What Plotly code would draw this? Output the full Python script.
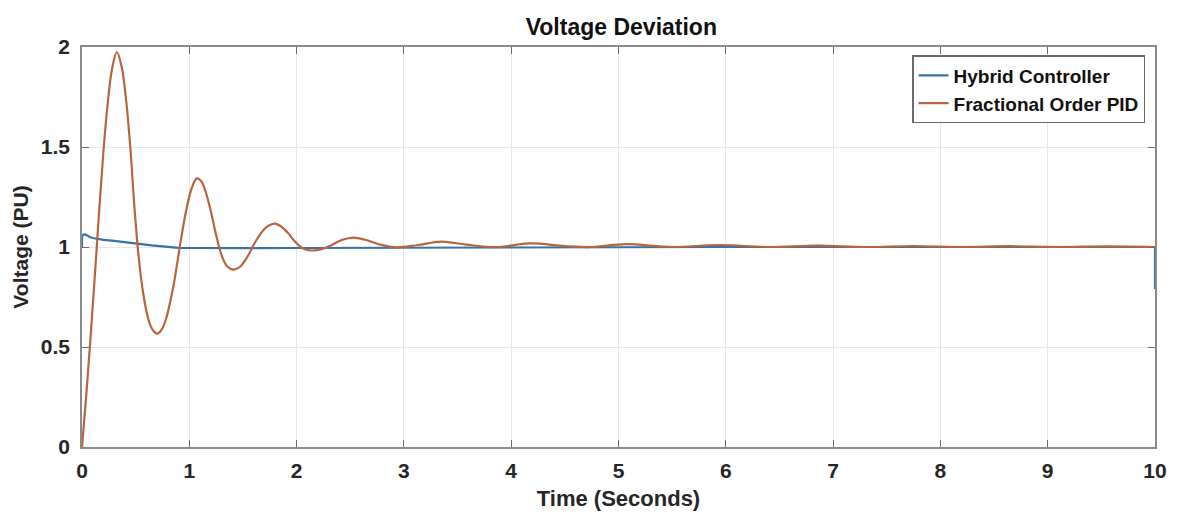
import plotly.graph_objects as go

# Step response of the hybrid controller (time in s, voltage in PU)
hybrid_t = [0.0, 0.0, 0.015, 0.03, 0.05, 0.07, 0.10, 0.14, 0.20, 0.30, 0.41, 0.50, 0.57,
            0.65, 0.73, 0.82, 0.90, 1.0, 1.2, 1.6, 2.0, 2.5, 3.0, 4.0, 5.0, 6.0, 7.0,
            8.0, 9.0, 10.0, 10.0]
hybrid_v = [1.0, 1.055, 1.062, 1.063, 1.058, 1.05, 1.045, 1.041, 1.036, 1.031, 1.025, 1.018,
            1.013, 1.008, 1.003, 0.998, 0.996, 0.995, 0.994, 0.994, 0.995, 0.996, 0.997,
            0.999, 1.0, 1.0, 1.0, 1.0, 1.0, 1.0, 0.79]

# Step response of the fractional order PID controller
fopid_t = [0.00, 0.04, 0.08, 0.12, 0.16, 0.20, 0.24, 0.28, 0.325, 0.37, 0.41, 0.45,
           0.49, 0.53, 0.57, 0.62, 0.66, 0.70, 0.74, 0.78, 0.85, 0.92, 0.97, 1.02,
           1.07, 1.11, 1.15, 1.20, 1.25, 1.30, 1.35, 1.41, 1.47, 1.54, 1.62, 1.70,
           1.75, 1.80, 1.85, 1.92, 1.98, 2.04, 2.10, 2.17, 2.24, 2.32, 2.42, 2.53,
           2.64, 2.76, 2.93, 3.13, 3.35, 3.58, 3.86, 4.17, 4.50, 4.75, 5.07, 5.50,
           5.94, 6.40, 6.85, 7.30, 7.75, 8.20, 8.65, 9.10, 9.55, 10.0]
fopid_v = [0.00, 0.26, 0.55, 0.86, 1.18, 1.48, 1.72, 1.89, 1.975, 1.90, 1.74, 1.50,
           1.19, 0.94, 0.77, 0.635, 0.585, 0.567, 0.585, 0.635, 0.80, 1.03, 1.18, 1.29,
           1.343, 1.33, 1.28, 1.18, 1.06, 0.96, 0.905, 0.887, 0.90, 0.95, 1.03, 1.09,
           1.11, 1.117, 1.105, 1.07, 1.03, 1.00, 0.985, 0.983, 0.99, 1.008, 1.035, 1.047,
           1.036, 1.015, 0.998, 1.01, 1.027, 1.012, 0.999, 1.018, 1.005, 1.0, 1.014, 1.0,
           1.01, 1.0, 1.007, 1.0, 1.005, 1.0, 1.004, 1.0, 1.003, 1.0]

x_ticks = [0, 1, 2, 3, 4, 5, 6, 7, 8, 9, 10]
y_ticks = [0, 0.5, 1, 1.5, 2]

FONT = "Liberation Sans, Arial, sans-serif"
TXT = "#262626"

fig = go.Figure()
fig.add_trace(go.Scatter(
    x=hybrid_t, y=hybrid_v, mode="lines", name="Hybrid Controller",
    line=dict(color="#3574A6", width=2.2, shape="linear"),
))
fig.add_trace(go.Scatter(
    x=fopid_t, y=fopid_v, mode="lines", name="Fractional Order PID",
    line=dict(color="#B8653F", width=2.2, shape="spline", smoothing=1.0),
))

axis_common = dict(
    showline=True, linecolor="#8a8a8a", linewidth=1.5, mirror="ticks",
    ticks="inside", ticklen=7, tickcolor="#6a6a6a", tickwidth=1.2,
    showgrid=True, gridcolor="#e6e6e6", gridwidth=1, zeroline=False,
    tickfont=dict(family=FONT, size=21, color=TXT, weight="bold"),
)

fig.update_xaxes(
    range=[0, 10], tickvals=x_ticks, ticklabelstandoff=4,
    title=dict(text="Time (Seconds)", standoff=10,
               font=dict(family=FONT, size=22, color=TXT, weight="bold")),
    **axis_common,
)
fig.update_yaxes(
    range=[0, 2], tickvals=y_ticks, ticklabelstandoff=6,
    title=dict(text="Voltage (PU)", standoff=6,
               font=dict(family=FONT, size=21, color=TXT, weight="bold")),
    **axis_common,
)

fig.update_layout(
    width=1179, height=520,
    margin=dict(l=82, r=19, t=47, b=73),
    paper_bgcolor="white", plot_bgcolor="white",
    title=dict(text="Voltage Deviation", x=0.527, xanchor="center",
               y=0.948, yanchor="middle", yref="container",
               font=dict(family=FONT, size=23, color="#111111", weight="bold")),
    legend=dict(x=0.991, xanchor="right", y=0.979, yanchor="top",
                bgcolor="white", bordercolor="#6a6a6a", borderwidth=1.2,
                font=dict(family=FONT, size=19, color="#111111", weight="bold"),
                itemwidth=30, tracegroupgap=0),
    showlegend=True,
)

fig.write_html("out.html")
